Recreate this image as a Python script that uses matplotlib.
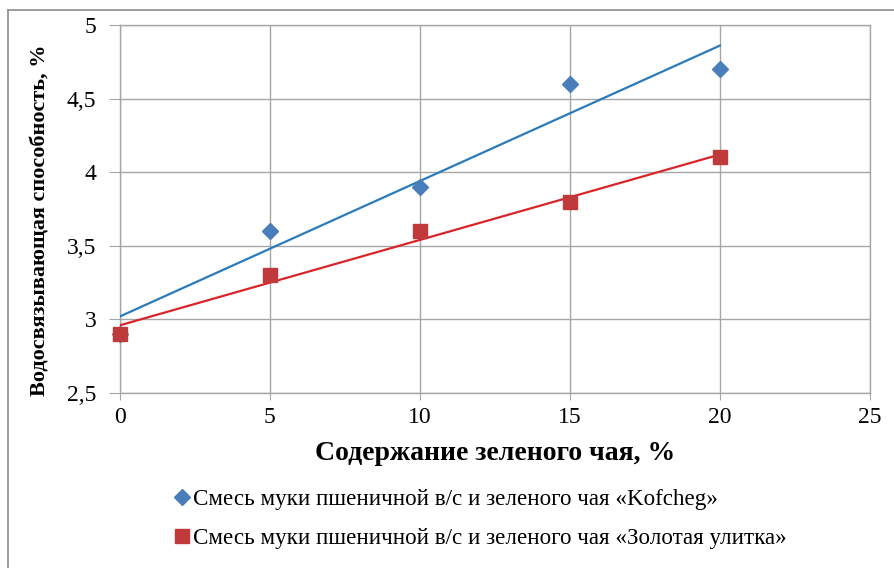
import numpy as np
import matplotlib
matplotlib.use("Agg")
import matplotlib.pyplot as plt
from matplotlib.lines import Line2D

plt.rcParams['font.family'] = ['Liberation Serif', 'DejaVu Serif']

# Green tea content, %
tea_content = [0, 5, 10, 15, 20]
# Water-binding capacity, %
kofcheg = [2.9, 3.6, 3.9, 4.6, 4.7]
zolotaya = [2.9, 3.3, 3.6, 3.8, 4.1]

x_ticks = [0, 5, 10, 15, 20, 25]
y_ticks = [2.5, 3.0, 3.5, 4.0, 4.5, 5.0]
y_tick_labels = ["2,5", "3", "3,5", "4", "4,5", "5"]

label_kofcheg = "Смесь муки пшеничной в/с и зеленого чая «Kofcheg»"
label_zolotaya = "Смесь муки пшеничной в/с и зеленого чая «Золотая улитка»"
x_title = "Содержание зеленого чая, %"
y_title = "Водосвязывающая способность, %"

marker_blue = "#4a7ebb"
marker_red = "#c0393b"
trend_blue = "#2b7bba"
trend_red = "#d8252a"
grid_col = "#a6a6a6"

fig = plt.figure(figsize=(8.94, 5.68), dpi=100)
ax = fig.add_axes([0.134, 0.308, 0.839, 0.648])

# linear trendlines over the measured range
xs = np.array(tea_content, dtype=float)
for ys, col in ((kofcheg, trend_blue), (zolotaya, trend_red)):
    k, b = np.polyfit(xs, np.array(ys), 1)
    ax.plot([xs.min(), xs.max()], [b + k * xs.min(), b + k * xs.max()],
            color=col, lw=1.6, zorder=3)

ax.plot(tea_content, kofcheg, linestyle="none", marker="D", ms=8.5,
        color=marker_blue, zorder=4, clip_on=False)
ax.plot(tea_content, zolotaya, linestyle="none", marker="s", ms=10.5,
        color=marker_red, zorder=5, clip_on=False)

ax.set_xlim(0, 25)
ax.set_ylim(2.5, 5)
ax.set_xticks(x_ticks)
ax.set_yticks(y_ticks)
ax.set_yticklabels(y_tick_labels)
ax.grid(True, color=grid_col, lw=1.0, zorder=0)
for s in ax.spines.values():
    s.set_color(grid_col)
    s.set_linewidth(1.0)
ax.tick_params(axis='both', direction='out', length=8, color=grid_col,
               labelsize=17, pad=9)
ax.tick_params(axis='x', length=5, pad=5)

ax.set_xlabel(x_title, fontsize=20, fontweight='bold')
ax.xaxis.set_label_coords(0.5, -0.13)
ax.set_ylabel(y_title, fontsize=16, fontweight='bold')
ax.yaxis.set_label_coords(-0.093, 0.47)

handles = [
    Line2D([], [], linestyle="none", marker="D", ms=8, color=marker_blue),
    Line2D([], [], linestyle="none", marker="s", ms=10, color=marker_red),
]
fig.legend(handles, [label_kofcheg, label_zolotaya], loc="upper left",
           bbox_to_anchor=(0.193, 0.14), bbox_transform=fig.transFigure,
           frameon=False, fontsize=16.6, handlelength=0.8, handletextpad=0.1,
           labelspacing=0.78, borderaxespad=0, borderpad=0)

# outer chart frame
fig.add_artist(Line2D([8 / 894, 8 / 894], [0, 1 - 10 / 568],
                      transform=fig.transFigure, color="#8c8c8c", lw=1.2))
fig.add_artist(Line2D([8 / 894, 1], [1 - 10 / 568, 1 - 10 / 568],
                      transform=fig.transFigure, color="#8c8c8c", lw=1.2))

fig.savefig("out.png", dpi=100)
